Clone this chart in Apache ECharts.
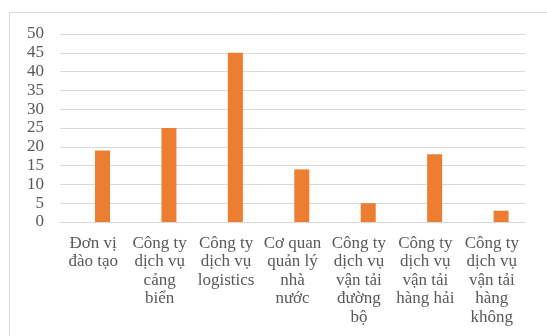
<!DOCTYPE html>
<html>
<head>
<meta charset="utf-8">
<script src="https://cdn.jsdelivr.net/npm/echarts@6/dist/echarts.min.js"></script>
<style>
html,body{margin:0;padding:0;background:#fff;}
#c{width:547px;height:336px;}
</style>
</head>
<body>
<div id="c"></div>
<script>
const categories = [
  "Đơn vị\nđào tạo",
  "Công ty\ndịch vụ\ncảng\nbiển",
  "Công ty\ndịch vụ\nlogistics",
  "Cơ quan\nquản lý\nnhà\nnước",
  "Công ty\ndịch vụ\nvận tải\nđường\nbộ",
  "Công ty\ndịch vụ\nvận tải\nhàng hải",
  "Công ty\ndịch vụ\nvận tải\nhàng\nkhông"
];
const values = [19, 25, 45, 14, 5, 18, 3];
const yMin = 0, yMax = 50, yStep = 5;

const font = "'Liberation Serif','Times New Roman',serif";
const chart = echarts.init(document.getElementById('c'), null, {renderer: 'canvas'});
chart.setOption({
  animation: false,
  backgroundColor: '#ffffff',
  graphic: [{
    type: 'rect', silent: true,
    shape: {x: 9.5, y: 12.5, width: 600, height: 400},
    style: {fill: 'none', stroke: '#d9d9d9', lineWidth: 1}
  }],
  grid: [
    {left: 60, right: 22, top: 34, bottom: 114},
    {left: 69.3, right: 12.7, top: 34, bottom: 114}
  ],
  xAxis: [
    {
      type: 'category', gridIndex: 0, data: categories,
      axisLine: {show: true, lineStyle: {color: '#d9d9d9', width: 1}},
      axisTick: {show: false},
      axisLabel: {
        interval: 0, color: '#595959', fontFamily: font, fontSize: 17,
        lineHeight: 18.5, margin: 12, align: 'center'
      }
    },
    {
      type: 'category', gridIndex: 1, data: categories, show: false
    }
  ],
  yAxis: [
    {
      type: 'value', gridIndex: 0, min: yMin, max: yMax, interval: yStep,
      axisLine: {show: false}, axisTick: {show: false},
      splitLine: {lineStyle: {color: '#d9d9d9', width: 1}},
      axisLabel: {color: '#595959', fontFamily: font, fontSize: 17, margin: 16}
    },
    {
      type: 'value', gridIndex: 1, min: yMin, max: yMax, interval: yStep, show: false,
      splitLine: {show: false}
    }
  ],
  series: [{
    type: 'bar', xAxisIndex: 1, yAxisIndex: 1,
    data: values, barWidth: 15,
    itemStyle: {color: '#ED7D31'}
  }]
});
</script>
</body>
</html>
